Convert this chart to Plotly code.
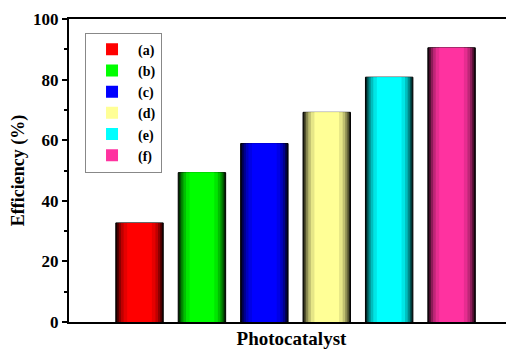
import plotly.graph_objects as go

categories = ["(a)", "(b)", "(c)", "(d)", "(e)", "(f)"]
efficiency = [32.7, 49.3, 58.9, 69.2, 80.8, 90.5]
base_colors = [(255, 0, 0), (0, 255, 0), (0, 0, 255), (255, 255, 150), (0, 255, 255), (255, 50, 160)]
y_ticks = [0, 20, 40, 60, 80, 100]

FONT = "Liberation Serif"
BAR_W = 0.76
layer_width = [1.0, 0.94, 0.87, 0.78, 0.67, 0.52]
layer_bright = [0.12, 0.32, 0.55, 0.75, 0.9, 1.0]


def rgb(c, f):
    return "rgb(%d,%d,%d)" % tuple(int(round(v * f)) for v in c)


fig = go.Figure()
n_layers = len(layer_width)
for cat, val, col in zip(categories, efficiency, base_colors):
    for i, (w, b) in enumerate(zip(layer_width, layer_bright)):
        first = i == 0
        last = i == n_layers - 1
        fig.add_trace(go.Bar(
            x=[cat], y=[val], width=BAR_W * w,
            name=cat, legendgroup=cat, showlegend=last,
            marker=dict(color=rgb(col, b),
                        line=dict(color="black", width=1 if first else 0)),
        ))

fig.update_layout(
    width=506, height=341,
    margin=dict(l=61, r=0, t=11, b=27, autoexpand=False),
    barmode="overlay",
    plot_bgcolor="white", paper_bgcolor="white",
    font=dict(family=FONT, color="black"),
    showlegend=True,
    legend=dict(
        x=0.036, y=0.955, xanchor="left", yanchor="top",
        bordercolor="#888888", borderwidth=1, bgcolor="white",
        font=dict(family=FONT, size=14, color="black", weight="bold"),
        tracegroupgap=0, itemwidth=42,
    ),
    xaxis=dict(
        range=[-1.13, 6.0], showticklabels=False, ticks="",
        showline=True, linecolor="black", linewidth=2, mirror=True,
        showgrid=False, zeroline=False,
        title=dict(text="<b>Photocatalyst</b>", font=dict(family=FONT, size=19), standoff=10),
    ),
    yaxis=dict(
        range=[0, 100], tickvals=y_ticks,
        ticks="outside", ticklen=5, tickwidth=2, tickcolor="black",
        minor=dict(dtick=10, ticks="outside", ticklen=3, tickwidth=2, tickcolor="black"),
        showline=True, linecolor="black", linewidth=2, mirror=False,
        showgrid=False, zeroline=False,
        tickfont=dict(family=FONT, size=17, weight="bold"),
        title=dict(text="<b>Efficiency (%)</b>", font=dict(family=FONT, size=18), standoff=6),
    ),
)

fig.write_html("out.html")
